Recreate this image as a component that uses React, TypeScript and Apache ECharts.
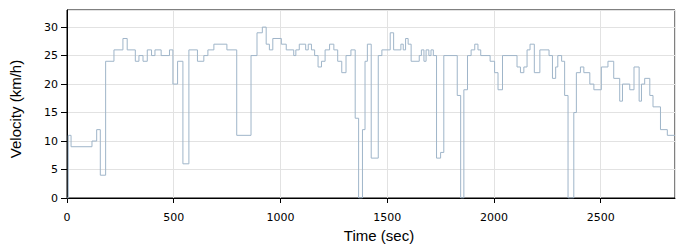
import React, { useEffect, useRef } from "react";
import * as echarts from "echarts";

const times = [
  0, 6, 19, 117, 139, 156, 181, 220, 262, 282, 320, 337, 356, 376, 396, 412, 441, 480, 496, 518,
  543, 571, 611, 641, 660, 688, 749, 795, 862, 890, 915, 933, 948, 964, 1004, 1027, 1062, 1072,
  1088, 1118, 1130, 1145, 1160, 1176, 1192, 1209, 1230, 1250, 1268, 1287, 1307, 1330, 1350, 1366,
  1384, 1396, 1407, 1425, 1458, 1475, 1514, 1530, 1564, 1575, 1586, 1598, 1612, 1650, 1660, 1672,
  1682, 1695, 1705, 1716, 1731, 1750, 1765, 1828, 1844, 1859, 1876, 1893, 1910, 1925, 1938, 1982,
  2003, 2019, 2040, 2108, 2124, 2140, 2155, 2169, 2189, 2215, 2258, 2274, 2289, 2299, 2317, 2331,
  2347, 2374, 2386, 2405, 2421, 2449, 2468, 2503, 2534, 2561, 2589, 2602, 2636, 2656, 2680, 2691,
  2706, 2730, 2745, 2780, 2812, 2848,
];

const speeds = [
  0, 11, 9, 10, 12, 4, 24, 26, 28, 26, 24, 25, 24, 26, 25, 26, 25, 26, 20, 24,
  6, 26, 24, 25, 26, 27, 26, 11, 25, 29, 30, 27, 26, 28, 27, 26, 25, 26,
  27, 26, 27, 26, 25, 23, 24, 26, 27, 26, 24, 22, 25, 26, 14, 0,
  12, 24, 27, 7, 25, 26, 29, 26, 27, 26, 28, 27, 24, 25, 26, 24,
  26, 25, 26, 25, 7, 8, 25, 18, 0, 19, 25, 26, 27, 26, 25, 24,
  22, 19, 25, 23, 22, 23, 26, 27, 22, 26, 25, 21, 23, 25, 24, 18,
  0, 15, 22, 23, 22, 20, 19, 23, 24, 21, 17, 20, 19, 23, 17, 20,
  21, 18, 16, 12, 11, 11,
];

const xTicks = [0, 500, 1000, 1500, 2000, 2500];
const yTicks = [0, 5, 10, 15, 20, 25, 30];

export default function App() {
  const ref = useRef<HTMLDivElement>(null);
  useEffect(() => {
    if (!ref.current) return;
    const chart = echarts.init(ref.current, undefined, { renderer: "svg" });
    const data = times.map((t, i) => [t, speeds[i]]);
    const tickFont = { fontFamily: "DejaVu Sans", fontSize: 11, color: "#000" };
    chart.setOption({
      animation: false,
      backgroundColor: "#fff",
      grid: {
        left: 67,
        right: 25,
        top: 10,
        bottom: 52,
        show: true,
        borderColor: "#000",
        borderWidth: 1,
        backgroundColor: "transparent",
      },
      xAxis: {
        type: "value",
        min: 0,
        max: 2848,
        interval: 500,
        name: "Time (sec)",
        nameLocation: "middle",
        nameGap: 27,
        nameTextStyle: {
          fontFamily: "Liberation Sans",
          fontSize: 15,
          color: "#000",
          padding: [0, 0, 0, 16],
        },
        axisLine: { show: true, lineStyle: { color: "#000", width: 1 } },
        axisTick: { show: true, length: 5, lineStyle: { color: "#000" } },
        axisLabel: {
          ...tickFont,
          margin: 14,
          showMaxLabel: false,
          formatter: (v: number) => (xTicks.includes(v) ? String(v) : ""),
        },
        splitLine: { show: true, lineStyle: { color: "#e2e2e2", width: 1 } },
      },
      yAxis: {
        type: "value",
        min: 0,
        max: 33,
        interval: 5,
        name: "Velocity (km/h)",
        nameLocation: "middle",
        nameGap: 44,
        nameTextStyle: {
          fontFamily: "Liberation Sans",
          fontSize: 15,
          color: "#000",
          padding: [0, 10, 0, 0],
        },
        axisLine: { show: true, lineStyle: { color: "#000", width: 1 } },
        axisTick: { show: true, length: 6, lineStyle: { color: "#000" } },
        axisLabel: {
          ...tickFont,
          margin: 9,
          showMaxLabel: false,
          formatter: (v: number) => (yTicks.includes(v) ? String(v) : ""),
        },
        splitLine: { show: true, lineStyle: { color: "#e2e2e2", width: 1 } },
      },
      series: [
        {
          type: "line",
          step: "end",
          data,
          showSymbol: false,
          symbol: "none",
          lineStyle: { color: "#9fb5c9", width: 1 },
          itemStyle: { color: "#9fb5c9" },
        },
      ],
    });
    return () => chart.dispose();
  }, []);
  return (
    <div
      ref={ref}
      style={{ position: "fixed", left: 0, top: 0, width: 700, height: 250, background: "#fff" }}
    />
  );
}
